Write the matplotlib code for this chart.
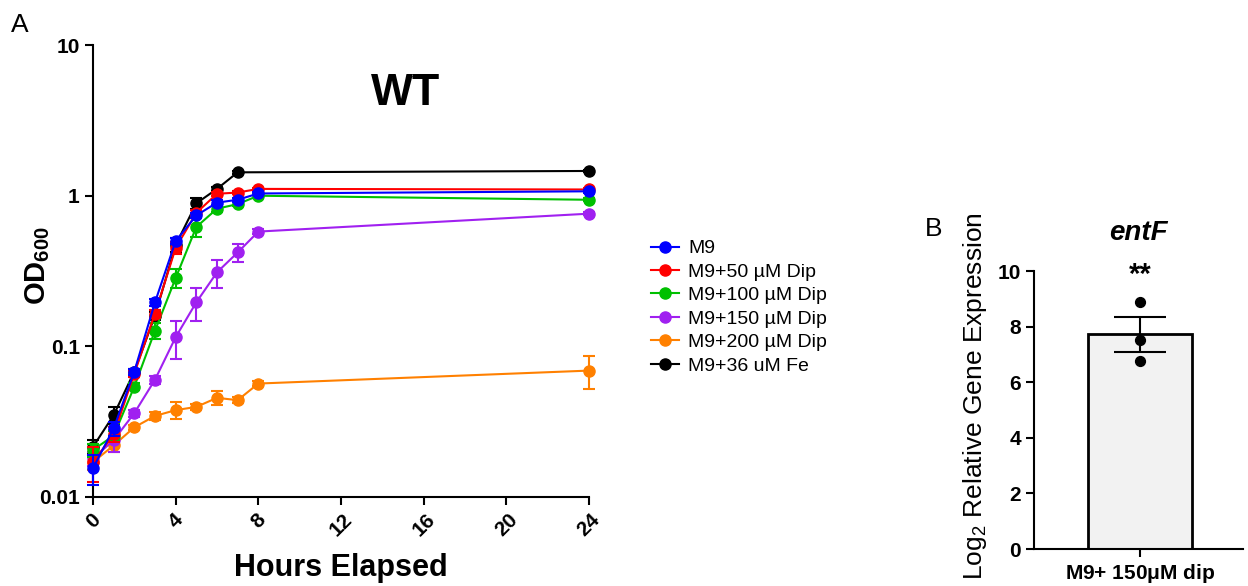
import numpy as np
import matplotlib.pyplot as plt
from matplotlib.lines import Line2D

plt.rcParams['font.family'] = ['Liberation Sans', 'DejaVu Sans']

# Panel A: growth curves (OD600)
hours = [0, 1, 2, 3, 4, 5, 6, 7, 8, 24]
hours_fe = [0, 1, 2, 3, 4, 5, 6, 7, 24]

od_m9 = [0.0155, 0.0285, 0.068, 0.196, 0.50, 0.74, 0.90, 0.94, 1.035, 1.07]
od_50 = [0.017, 0.026, 0.066, 0.165, 0.45, 0.77, 1.03, 1.05, 1.11, 1.10]
od_100 = [0.0205, 0.0255, 0.054, 0.127, 0.284, 0.62, 0.82, 0.88, 1.0, 0.94]
od_150 = [0.018, 0.0238, 0.036, 0.060, 0.115, 0.196, 0.31, 0.42, 0.578, 0.76]
od_200 = [0.017, 0.022, 0.029, 0.0345, 0.0377, 0.0396, 0.0455, 0.0439, 0.0566, 0.069]
od_fe = [0.0215, 0.0349, 0.068, 0.16, 0.47, 0.89, 1.11, 1.43, 1.46]

err_m9 = [0.0035, 0.003, 0.003, 0.01, 0.02, 0.03, 0.03, 0.03, 0.02, 0.02]
err_50 = [0.0045, 0.003, 0.003, 0.01, 0.04, 0.04, 0.03, 0.03, 0.02, 0.02]
err_100 = [0.002, 0.002, 0.003, 0.015, 0.04, 0.09, 0.04, 0.03, 0.03, 0.02]
err_150 = [0.002, 0.004, 0.002, 0.004, 0.032, 0.048, 0.066, 0.057, 0.02, 0.02]
err_200 = [0.002, 0.002, 0.001, 0.002, 0.005, 0.002, 0.005, 0.002, 0.002, 0.017]
err_fe = [0.0023, 0.0045, 0.003, 0.01, 0.05, 0.07, 0.04, 0.04, 0.03]

labels = ['M9', 'M9+50 µM Dip', 'M9+100 µM Dip', 'M9+150 µM Dip',
          'M9+200 µM Dip', 'M9+36 uM Fe']
colors = ['#0000FF', '#FF0000', '#00C000', '#A020F0', '#FF8000', '#000000']

# Panel B: entF expression
cond_b = ['M9+ 150$\\mathregular{\\mu}$M dip']
mean_b = [7.72]
sem_b = [0.62]
points_b = [8.88, 7.51, 6.77]

fig = plt.figure(figsize=(12.48, 5.86), dpi=100)
ax = fig.add_axes([0.0745, 0.152, 0.3975, 0.771])

series = [(hours, od_m9, err_m9), (hours, od_50, err_50), (hours, od_100, err_100),
          (hours, od_150, err_150), (hours, od_200, err_200), (hours_fe, od_fe, err_fe)]

# draw in reverse so M9 ends up on top
for i in range(5, -1, -1):
    x, y, e = series[i]
    ax.errorbar(x, y, yerr=e, color=colors[i], marker='o', ms=8, lw=1.5,
                elinewidth=1.5, capsize=4, capthick=1.5,
                zorder=3 + (5 - i), clip_on=False)

ax.set_yscale('log')
ax.set_ylim(0.01, 10)
ax.set_xlim(0, 24)
ax.set_xticks([0, 4, 8, 12, 16, 20, 24])
ax.set_yticks([0.01, 0.1, 1, 10])
ax.set_yticklabels(['0.01', '0.1', '1', '10'])
ax.yaxis.set_minor_locator(plt.NullLocator())
for s in ['top', 'right']:
    ax.spines[s].set_visible(False)
for s in ['left', 'bottom']:
    ax.spines[s].set_linewidth(1.5)
ax.tick_params(width=1.5, length=6, labelsize=15)
for lab in ax.get_xticklabels():
    lab.set_rotation(45)
    lab.set_fontweight('bold')
for lab in ax.get_yticklabels():
    lab.set_fontweight('bold')
ax.set_xlabel('Hours Elapsed', fontsize=22, fontweight='bold')
ax.xaxis.set_label_coords(0.5, -0.125)
ax.set_ylabel('OD$_{\\mathregular{600}}$', fontsize=21, fontweight='bold')
ax.yaxis.set_label_coords(-0.083, 0.513)
ax.text(0.63, 0.894, 'WT', transform=ax.transAxes, ha='center', va='center',
        fontsize=32, fontweight='bold')

handles = [Line2D([], [], color=c, marker='o', ms=8, lw=1.5) for c in colors]
ax.legend(handles, labels, loc='center left', bbox_to_anchor=(1.11, 0.42),
          borderaxespad=0, frameon=False, fontsize=14, handlelength=1.4,
          handletextpad=0.5, labelspacing=0.3)

fig.text(0.009, 0.958, 'A', fontsize=19, va='center')

# Panel B
axb = fig.add_axes([0.8285, 0.063, 0.1675, 0.4745])
axb.bar([0], mean_b, width=1, color='#F2F2F2', edgecolor='black', linewidth=2)
axb.errorbar([0], mean_b, yerr=sem_b, color='black', capsize=19, capthick=1.5,
             elinewidth=1.5, fmt='none')
axb.scatter([0] * len(points_b), points_b, color='black', s=50, zorder=4)
axb.set_xlim(-1.02, 0.99)
axb.set_ylim(0, 10)
axb.set_yticks([0, 2, 4, 6, 8, 10])
axb.set_xticks([0])
axb.set_xticklabels(cond_b, fontsize=15, fontweight='bold')
for lab in axb.get_yticklabels():
    lab.set_fontweight('bold')
axb.tick_params(width=1.5, length=6, labelsize=15)
for s in ['top', 'right']:
    axb.spines[s].set_visible(False)
for s in ['left', 'bottom']:
    axb.spines[s].set_linewidth(1.5)
axb.set_ylabel('Log$_{\\mathregular{2}}$ Relative Gene Expression', fontsize=19)
axb.yaxis.set_label_coords(-0.215, 0.55)
axb.text(0, 9.85, '**', ha='center', va='center', fontsize=21, fontweight='bold')
axb.set_title('entF', fontsize=20, fontweight='bold', style='italic', pad=22)
fig.text(0.741, 0.61, 'B', fontsize=19, va='center')

fig.savefig('out.png', dpi=100)
